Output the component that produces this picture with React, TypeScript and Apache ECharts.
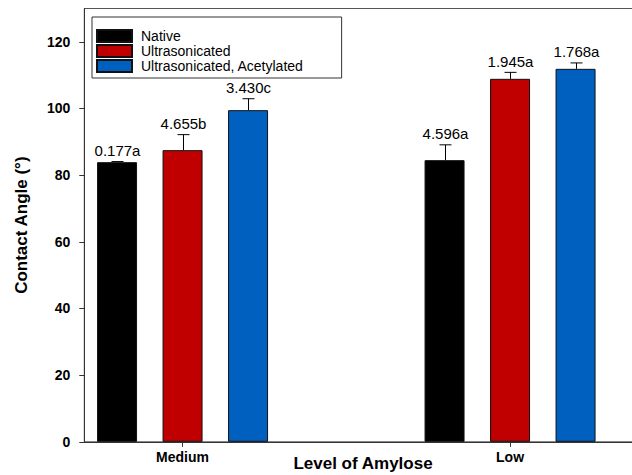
import React, { useEffect, useRef } from "react";
import * as echarts from "echarts";

const categories = ["Medium", "Low"];
const treatments = ["Native", "Ultrasonicated", "Ultrasonicated, Acetylated"];
const colors = ["#000000", "#c00000", "#0060c0"];

const nativeMean = [83.9, 84.5];
const ultraMean = [87.5, 108.9];
const acetMean = [99.5, 111.9];

const nativeSD = [0.177, 4.596];
const ultraSD = [4.655, 1.945];
const acetSD = [3.43, 1.768];

const nativeLetter = ["a", "a"];
const ultraLetter = ["b", "a"];
const acetLetter = ["c", "a"];

const yTicks = [0, 20, 40, 60, 80, 100, 120];

const FONT = "Arial, 'Liberation Sans', Helvetica, sans-serif";

export default function App() {
  const ref = useRef<HTMLDivElement>(null);
  useEffect(() => {
    if (!ref.current) return;
    const chart = echarts.init(ref.current, null, { renderer: "svg" });

    const groupStride = 5;
    const slotCount = 9;
    const slots: string[] = new Array(slotCount).fill("");
    categories.forEach((c, g) => {
      slots[g * groupStride + 1] = c;
    });

    const means = [nativeMean, ultraMean, acetMean];
    const sds = [nativeSD, ultraSD, acetSD];
    const letters = [nativeLetter, ultraLetter, acetLetter];

    const barSeries = treatments.map((name, t) => {
      const data: any[] = new Array(slotCount).fill("-");
      categories.forEach((_, g) => {
        data[g * groupStride + t] = means[t][g];
      });
      return {
        type: "bar",
        name,
        data,
        barWidth: 40,
        barGap: "-100%",
        itemStyle: { color: colors[t], borderColor: "#111", borderWidth: 1 },
        z: 3,
      };
    });

    const errData: any[] = [];
    treatments.forEach((_, t) => {
      categories.forEach((__, g) => {
        errData.push([g * groupStride + t, means[t][g], sds[t][g], letters[t][g]]);
      });
    });

    const option: any = {
      animation: false,
      backgroundColor: "#fff",
      grid: {
        left: 84.3,
        top: 8.5,
        width: 589.5,
        height: 433.3,
        outerBoundsMode: "none",
        containLabel: false,
        show: true,
        borderColor: "#555",
        borderWidth: 1,
        backgroundColor: "transparent",
      },
      legend: {
        left: 92,
        top: 17,
        orient: "vertical",
        data: treatments,
        icon: "rect",
        itemWidth: 35,
        itemHeight: 12,
        itemGap: 1,
        padding: [12, 38, 5, 4],
        borderColor: "#333",
        borderWidth: 1,
        backgroundColor: "#fff",
        selectedMode: false,
        textStyle: {
          fontFamily: FONT,
          fontSize: 14,
          color: "#000",
          lineHeight: 14,
          padding: [0, 0, 0, 4],
        },
      },
      xAxis: {
        type: "category",
        data: slots,
        axisLine: { show: true, lineStyle: { color: "#333", width: 1 } },
        axisTick: {
          show: true,
          alignWithLabel: true,
          length: 5,
          interval: (idx: number) => slots[idx] !== "",
          lineStyle: { color: "#333" },
        },
        axisLabel: {
          interval: 0,
          margin: 8,
          fontFamily: FONT,
          fontSize: 14,
          fontWeight: "bold",
          color: "#000",
        },
        splitLine: { show: false },
      },
      yAxis: {
        type: "value",
        min: 0,
        max: 130,
        interval: 20,
        name: "Contact Angle (°)",
        nameLocation: "middle",
        nameGap: 54,
        nameTextStyle: {
          fontFamily: FONT,
          fontSize: 17,
          fontWeight: "bold",
          color: "#000",
        },
        axisLine: { show: true, lineStyle: { color: "#333", width: 1 } },
        axisTick: {
          show: true,
          length: 5,
          customValues: yTicks,
          lineStyle: { color: "#333" },
        },
        axisLabel: {
          customValues: yTicks,
          margin: 14,
          fontFamily: FONT,
          fontSize: 14,
          fontWeight: "bold",
          color: "#000",
        },
        splitLine: { show: false },
      },
      title: {
        text: "Level of Amylose",
        left: 363,
        top: 455,
        textAlign: "center",
        padding: 0,
        textStyle: {
          fontFamily: FONT,
          fontSize: 17,
          fontWeight: "bold",
          color: "#000",
        },
      },
      series: [
        ...barSeries,
        {
          type: "custom",
          name: "err",
          data: errData,
          encode: { x: 0, y: 1 },
          z: 4,
          renderItem: (params: any, api: any) => {
            const slot = api.value(0);
            const mean = api.value(1);
            const sd = api.value(2);
            const letter = errData[params.dataIndex][3];
            const base = api.coord([slot, mean]);
            const top = api.coord([slot, mean + sd]);
            const cx = Math.round(base[0]) + 0.5;
            const half = 6;
            return {
              type: "group",
              children: [
                {
                  type: "line",
                  shape: { x1: cx, y1: base[1], x2: cx, y2: top[1] },
                  style: { stroke: "#000", lineWidth: 1 },
                },
                {
                  type: "line",
                  shape: { x1: cx - half, y1: top[1], x2: cx + half, y2: top[1] },
                  style: { stroke: "#000", lineWidth: 1 },
                },
                {
                  type: "text",
                  x: cx,
                  y: top[1] - 3.5,
                  style: {
                    text: sd.toFixed(3) + letter,
                    align: "center",
                    verticalAlign: "bottom",
                    fontFamily: FONT,
                    fontSize: 15,
                    fill: "#000",
                  },
                },
              ],
            };
          },
        },
      ],
    };

    chart.setOption(option);
    return () => chart.dispose();
  }, []);

  return (
    <div
      ref={ref}
      style={{ position: "fixed", left: 0, top: 0, width: 632, height: 475 }}
    />
  );
}
